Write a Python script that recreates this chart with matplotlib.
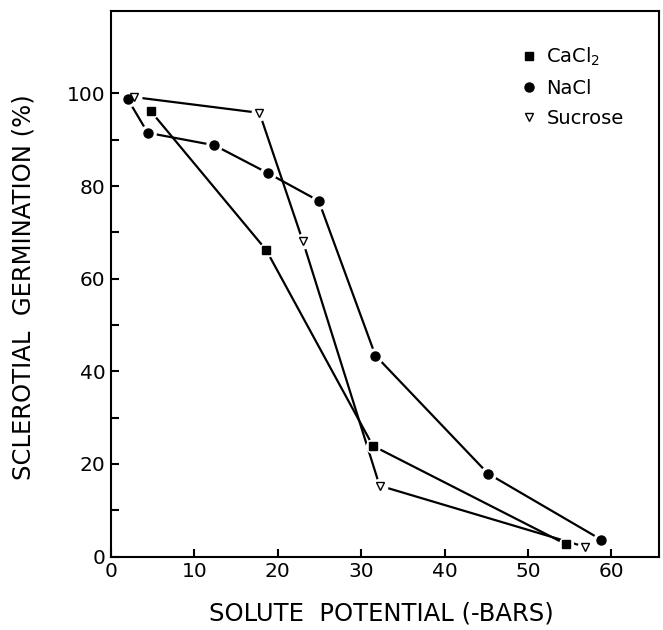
import matplotlib
matplotlib.use('Agg')
import matplotlib.pyplot as plt
from matplotlib.lines import Line2D

# Data
cacl2_x = [4.8, 18.6, 31.4, 54.6]
cacl2_y = [96.1, 66.2, 23.9, 2.6]

nacl_x = [2.0, 4.4, 12.4, 18.8, 24.9, 31.7, 45.2, 58.8]
nacl_y = [98.8, 91.5, 88.8, 82.8, 76.8, 43.4, 17.9, 3.6]

sucrose_x = [2.8, 17.8, 23.0, 32.2, 56.8]
sucrose_y = [99.2, 95.8, 68.1, 15.3, 2.1]

x_ticks = [0, 10, 20, 30, 40, 50, 60]
y_ticks = [0, 10, 20, 30, 40, 50, 60, 70, 80, 90, 100]
y_tick_labels = ['0', '', '20', '', '40', '', '60', '', '80', '', '100']

plt.rcParams['font.family'] = ['DejaVu Sans']

fig = plt.figure(figsize=(6.63, 6.30), dpi=100)
ax = fig.add_axes([111 / 663, 1 - 556.5 / 630, 548 / 663, 545.5 / 630])

series = [
    (cacl2_x, cacl2_y, 's', 5.5, 'black', r'CaCl$_2$'),
    (nacl_x, nacl_y, 'o', 6.5, 'black', 'NaCl'),
    (sucrose_x, sucrose_y, 'v', 6.0, 'white', 'Sucrose'),
]

handles = []
for xs, ys, mk, ms, face, label in series:
    ax.plot(xs, ys, '-', color='black', lw=1.6, zorder=2)
    # white halo so the lines stop short of each marker
    ax.plot(xs, ys, 'o', ls='none', ms=ms + 5.5, mfc='white', mec='none', zorder=3)
    ax.plot(xs, ys, marker=mk, ls='none', ms=ms, mfc=face, mec='black',
            mew=1.0, zorder=4)
    handles.append(Line2D([], [], marker=mk, ls='none', ms=ms, mfc=face,
                          mec='black', mew=1.0, label=label))

ax.set_xlim(0, 65.7)
ax.set_ylim(0, 117.8)
ax.set_xticks(x_ticks)
ax.set_yticks(y_ticks)
ax.set_yticklabels(y_tick_labels)
ax.tick_params(direction='in', length=6, width=1.5, labelsize=14.5, pad=4,
               top=False, right=False)
for sp in ax.spines.values():
    sp.set_linewidth(1.5)

ax.set_xlabel('SOLUTE  POTENTIAL (-BARS)', fontsize=17.5, va='center')
ax.xaxis.set_label_coords(0.494, -0.105)
ax.set_ylabel('SCLEROTIAL  GERMINATION (%)', fontsize=17.5, va='center')
ax.yaxis.set_label_coords(-0.159, 0.494)

leg = ax.legend(handles=handles, loc='upper left', frameon=False,
                bbox_to_anchor=(521 / 663, 1 - 46 / 630),
                bbox_transform=fig.transFigure,
                fontsize=14, handlelength=0.8, handletextpad=0.5,
                labelspacing=0.55, borderpad=0, borderaxespad=0)

fig.savefig('out.png', dpi=100)
